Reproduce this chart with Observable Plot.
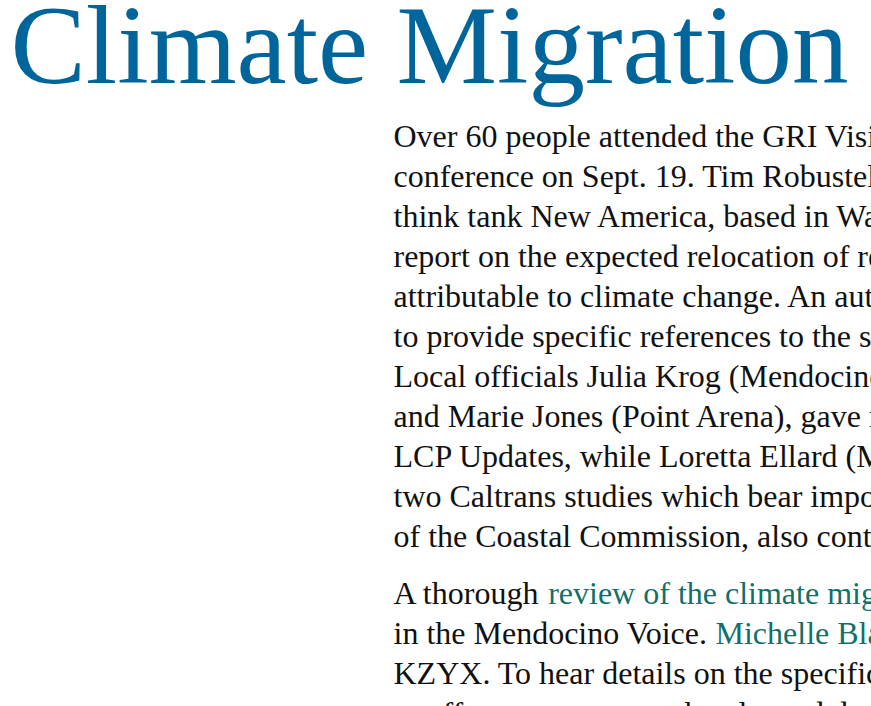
<!DOCTYPE html>
<html>
<head>
<meta charset="utf-8">
<script src="https://cdn.jsdelivr.net/npm/d3@7"></script>
<script src="https://cdn.jsdelivr.net/npm/@observablehq/plot@0.6"></script>
<style>
  html, body { margin: 0; padding: 0; background: #fff; overflow: hidden; }
  #chart svg { overflow: hidden; display: block; }
</style>
</head>
<body>
<div id="chart"></div>
<script>
// ---- content ----
const titleText = ["Climate Migration"];

const paragraph1 = [
  "Over 60 people attended the GRI Visioning",
  "conference on Sept. 19. Tim Robustelli of the",
  "think tank New America, based in Washington,",
  "report on the expected relocation of residents",
  "attributable to climate change. An author",
  "to provide specific references to the state.",
  "Local officials Julia Krog (Mendocino County)",
  "and Marie Jones (Point Arena), gave reports",
  "LCP Updates, while Loretta Ellard (Mendocino)",
  "two Caltrans studies which bear importantly",
  "of the Coastal Commission, also contributed."
];

// paragraph 2: each line is a list of [text, kind] segments
const paragraph2 = [
  [["A thorough ", "text"], ["review of the climate migration conference", "link"]],
  [["in the Mendocino Voice. ", "text"], ["Michelle Blackwell", "link"]],
  [["KZYX. To hear details on the specific plans", "text"]],
  [["to offer comments on the planned draft revisions", "text"]]
];

const colors = { title: "#00659a", text: "#111111", link: "#11706a" };

// ---- layout ----
const W = 871, H = 706;
const bodyFont = "Liberation Serif";
const bodySize = 32;
const titleSize = 113;
const left = 393;
const firstCenter = 136;
const lineHeight = 40;
const paraGap = 17;

const ctx = document.createElement("canvas").getContext("2d");
ctx.font = `${bodySize}px "${bodyFont}"`;
const measure = (s) => ctx.measureText(s).width;

const rows = [];
paragraph1.forEach((t, i) => {
  rows.push({text: t, kind: "text", x: left, y: firstCenter + i * lineHeight});
});
paragraph2.forEach((segs, i) => {
  let off = 0;
  const y = firstCenter + (paragraph1.length + i) * lineHeight + paraGap;
  segs.forEach(([t, kind]) => {
    rows.push({text: t, kind, x: left + off, y});
    off += measure(t);
  });
});

const titleRows = titleText.map((t) => ({text: t, x: 10, y: 46}));

const svg = Plot.plot({
  width: W,
  height: H,
  margin: 0,
  x: {type: "identity", axis: null},
  y: {type: "identity", axis: null},
  style: {background: "#fff", overflow: "hidden"},
  marks: [
    Plot.text(titleRows, {
      x: "x", y: "y", text: "text",
      textAnchor: "start", lineAnchor: "middle",
      fontFamily: bodyFont, fontSize: titleSize,
      fill: colors.title
    }),
    Plot.text(rows, {
      x: "x", y: "y", text: "text",
      textAnchor: "start", lineAnchor: "middle",
      fontFamily: bodyFont, fontSize: bodySize,
      fill: (d) => colors[d.kind]
    })
  ]
});
document.getElementById("chart").appendChild(svg);
</script>
</body>
</html>
